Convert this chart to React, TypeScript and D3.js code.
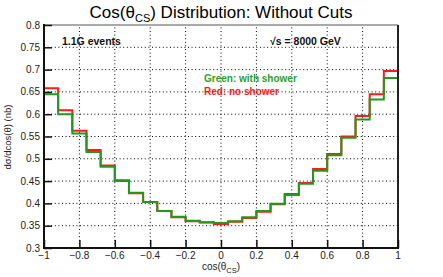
import React, { useEffect, useRef } from 'react';
import * as d3 from 'd3';

// bin lower edges from -1 to 1 in steps of 0.08 (25 bins)
const binEdges = d3.range(26).map(i => -1 + i * 0.08);

// d sigma / d cos(theta) in nb
const noShower = [
  0.658, 0.609, 0.563, 0.52, 0.485, 0.452, 0.423, 0.403, 0.383, 0.369, 0.36, 0.357, 0.354,
  0.359, 0.367, 0.381, 0.398, 0.421, 0.446, 0.477, 0.511, 0.55, 0.596, 0.645, 0.697,
];
const withShower = [
  0.645, 0.6, 0.557, 0.515, 0.482, 0.45, 0.424, 0.403, 0.383, 0.37, 0.361, 0.358, 0.356,
  0.36, 0.369, 0.383, 0.399, 0.419, 0.444, 0.473, 0.508, 0.547, 0.588, 0.633, 0.681,
];

const xTicks = [-1, -0.8, -0.6, -0.4, -0.2, 0, 0.2, 0.4, 0.6, 0.8, 1];
const yTicks = [0.3, 0.35, 0.4, 0.45, 0.5, 0.55, 0.6, 0.65, 0.7, 0.75, 0.8];

const W = 443;
const H = 277;
const FONT = "'Liberation Sans', Arial, sans-serif";

const App: React.FC = () => {
  const svgRef = useRef<SVGSVGElement | null>(null);

  useEffect(() => {
    const svg = d3.select(svgRef.current);
    svg.selectAll('*').remove();

    const left = 44;
    const right = 398;
    const top = 25;
    const bottom = 248;

    const x = d3.scaleLinear().domain([-1, 1]).range([left, right]);
    const y = d3.scaleLinear().domain([0.3, 0.8]).range([bottom, top]);

    svg.append('rect').attr('width', W).attr('height', H).attr('fill', '#fff');

    // dotted grid
    const grid = svg.append('g').attr('stroke', '#000').attr('stroke-width', 1).attr('stroke-dasharray', '1 2.6');
    xTicks.slice(1, -1).forEach(t => {
      grid.append('line').attr('x1', x(t)).attr('x2', x(t)).attr('y1', bottom).attr('y2', top);
    });
    yTicks.slice(1, -1).forEach(t => {
      grid.append('line').attr('x1', left).attr('x2', right).attr('y1', y(t)).attr('y2', y(t));
    });

    // histograms
    const stepLine = d3
      .line<number>()
      .x((_, i) => x(binEdges[i]))
      .y(d => y(d))
      .curve(d3.curveStepAfter);

    const drawHist = (vals: number[], color: string) => {
      const pts = [...vals, vals[vals.length - 1]];
      svg
        .append('path')
        .attr('d', stepLine(pts))
        .attr('fill', 'none')
        .attr('stroke', color)
        .attr('stroke-width', 2);
    };
    drawHist(noShower, '#ff1a1a');
    drawHist(withShower, '#1f9a1f');

    // frame
    svg.append('line').attr('x1', left).attr('x2', right).attr('y1', top).attr('y2', top)
      .attr('stroke', '#555').attr('stroke-width', 1);
    svg.append('line').attr('x1', right).attr('x2', right).attr('y1', top).attr('y2', bottom)
      .attr('stroke', '#222').attr('stroke-width', 2);

    // axes
    const yAxis = d3.axisRight(y).tickValues(yTicks).tickSize(8).tickFormat(() => '');
    const yMinor = d3.axisRight(y).tickValues(d3.range(30, 81).map(v => v / 100)).tickSize(4).tickFormat(() => '');
    const gy = svg.append('g').attr('transform', `translate(${left},0)`);
    gy.call(yMinor);
    gy.call(yAxis);
    gy.selectAll('.domain').remove();
    gy.selectAll('line').attr('stroke', '#111').attr('stroke-width', 1.5);

    const xAxis = d3.axisTop(x).tickValues(xTicks).tickSize(8).tickFormat(() => '');
    const xMinor = d3.axisTop(x).tickValues(d3.range(-20, 21).map(v => v / 20)).tickSize(4).tickFormat(() => '');
    const gx = svg.append('g').attr('transform', `translate(0,${bottom})`);
    gx.call(xMinor);
    gx.call(xAxis);
    gx.selectAll('.domain').remove();
    gx.selectAll('line').attr('stroke', '#111').attr('stroke-width', 1.5);

    svg.append('line').attr('x1', left).attr('x2', left).attr('y1', top - 1).attr('y2', bottom + 1)
      .attr('stroke', '#111').attr('stroke-width', 2);
    svg.append('line').attr('x1', left - 1).attr('x2', right + 1).attr('y1', bottom).attr('y2', bottom)
      .attr('stroke', '#111').attr('stroke-width', 2);

    // tick labels
    const fmt = (v: number) => d3.format('~g')(v).replace('-', '\u2212');
    svg.append('g').selectAll('text').data(yTicks).enter().append('text')
      .attr('x', left - 4).attr('y', d => y(d) + 3.5)
      .attr('text-anchor', 'end').attr('font-family', FONT).attr('font-size', 10).attr('fill', '#222')
      .text(d => fmt(d));
    svg.append('g').selectAll('text').data(xTicks).enter().append('text')
      .attr('x', d => x(d)).attr('y', bottom + 11)
      .attr('text-anchor', 'middle').attr('font-family', FONT).attr('font-size', 10).attr('fill', '#222')
      .text(d => fmt(d));

    // title
    const title = svg.append('text').attr('x', 221).attr('y', 18).attr('text-anchor', 'middle')
      .attr('font-family', FONT).attr('font-size', 17).attr('fill', '#000');
    title.append('tspan').text('Cos(\u03b8');
    title.append('tspan').attr('font-size', 11).attr('dy', 4).text('CS');
    title.append('tspan').attr('dy', -4).text(') Distribution: Without Cuts');

    // axis titles
    const xt = svg.append('text').attr('x', 221).attr('y', 270).attr('text-anchor', 'middle')
      .attr('font-family', FONT).attr('font-size', 10).attr('fill', '#222');
    xt.append('tspan').text('cos(\u03b8');
    xt.append('tspan').attr('font-size', 7.5).attr('dy', 3).text('CS');
    xt.append('tspan').attr('dy', -3).text(')');

    svg.append('text').attr('transform', 'translate(11,137) rotate(-90)').attr('text-anchor', 'middle')
      .attr('font-family', FONT).attr('font-size', 9.5).attr('fill', '#222')
      .text('d\u03c3/dcos(\u03b8) (nb)');

    // annotations
    svg.append('text').attr('x', 62).attr('y', 45).attr('font-family', FONT).attr('font-size', 10.5)
      .attr('font-weight', 'bold').attr('fill', '#111').text('1.1G events');
    svg.append('text').attr('x', 270).attr('y', 45).attr('font-family', FONT).attr('font-size', 10.5)
      .attr('font-weight', 'bold').attr('fill', '#111').text('\u221as = 8000 GeV');
    svg.append('text').attr('x', 204).attr('y', 82).attr('font-family', FONT).attr('font-size', 10)
      .attr('font-weight', 'bold').attr('fill', '#2ca02c').text('Green: with shower');
    svg.append('text').attr('x', 204).attr('y', 95).attr('font-family', FONT).attr('font-size', 10)
      .attr('font-weight', 'bold').attr('fill', '#ff1a1a').text('Red: no shower');
  }, []);

  return (
    <svg
      ref={svgRef}
      width={W}
      height={H}
      style={{ position: 'absolute', left: 0, top: 0, display: 'block' }}
    />
  );
};

export default App;
